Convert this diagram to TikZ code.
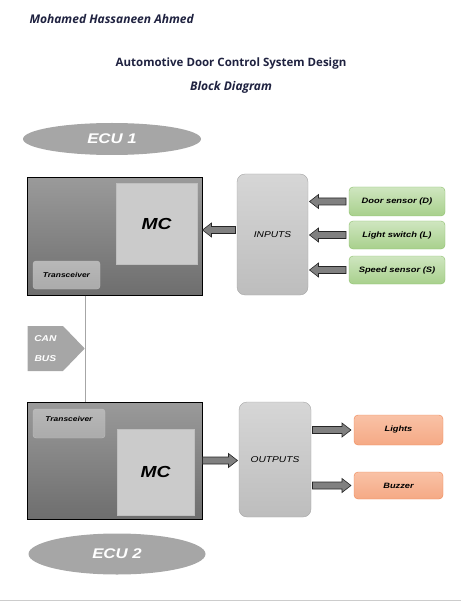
\documentclass[tikz,border=0pt]{standalone}
\usepackage{fontspec}
\setmainfont{Liberation Sans}[FakeStretch=1.2]
\newfontfamily\headfont{Open Sans}
\usepackage{xcolor}
\usepackage{tikz}
\usetikzlibrary{calc,shapes.geometric,shapes.symbols}
\definecolor{EcuGrayTop}{HTML}{9A9A9A}
\definecolor{EcuGrayBot}{HTML}{6E6E6E}
\definecolor{ChipGray}{HTML}{CBCBCB}
\definecolor{PortTop}{HTML}{D6D6D6}
\definecolor{PortBot}{HTML}{BDBDBD}
\definecolor{SensTop}{HTML}{CFE6C0}
\definecolor{SensBot}{HTML}{A8D08C}
\definecolor{SensLine}{HTML}{8CBF6C}
\definecolor{ActTop}{HTML}{F9C2A6}
\definecolor{ActBot}{HTML}{F5A985}
\definecolor{ActLine}{HTML}{EE8755}
\definecolor{LabelGray}{HTML}{A6A6A6}
\definecolor{TitleInk}{HTML}{1F2240}
% block arrow from #1 to #2 (shaft 7pt, head 14pt)
\newcommand{\blockarrow}[2]{%
    \coordinate (bas) at (#1);
    \coordinate (bat) at (#2);
    \coordinate (bah) at ($(bat)!9pt!(bas)$);
    \filldraw[blockarrow] ($(bas)!3.5pt!90:(bat)$) -- ($(bah)!3.5pt!-90:(bas)$)
        -- ($(bah)!7pt!-90:(bas)$) -- (bat) -- ($(bah)!7pt!90:(bas)$)
        -- ($(bah)!3.5pt!90:(bas)$) -- ($(bas)!3.5pt!-90:(bat)$) -- cycle;}

\begin{document}
\begin{tikzpicture}[
        x=1pt, y=-1pt,
        title/.style={font=\headfont\fontsize{11.5}{13}\selectfont\bfseries, text=TitleInk},
        ecubox/.style={
            draw=black,
            line width=1pt,
            top color=EcuGrayTop,
            bottom color=EcuGrayBot,
            inner sep=0pt
        },
        chip/.style={
            draw=black!25,
            fill=ChipGray,
            inner sep=0pt,
            font=\fontsize{16}{18}\selectfont\bfseries\itshape
        },
        trx/.style={
            draw=black!25,
            rounded corners=3pt,
            top color=black!28,
            bottom color=black!33,
            inner sep=0pt,
            font=\fontsize{7}{8}\selectfont\bfseries\itshape
        },
        ecutag/.style={
            ellipse,
            fill=LabelGray,
            inner sep=0pt,
            text=white,
            font=\fontsize{14}{16}\selectfont\bfseries\itshape
        },
        port/.style={
            draw=black!35,
            rounded corners=8pt,
            top color=PortTop,
            bottom color=PortBot,
            inner sep=0pt,
            outer sep=1.5pt,
            font=\fontsize{8.5}{10}\selectfont\itshape
        },
        sensor/.style={
            draw=SensLine,
            rounded corners=4pt,
            top color=SensTop,
            bottom color=SensBot,
            minimum width=96pt,
            inner sep=0pt,
            outer sep=3pt,
            font=\fontsize{7.8}{9}\selectfont\bfseries\itshape
        },
        actuator/.style={
            draw=ActLine,
            rounded corners=4pt,
            top color=ActTop,
            bottom color=ActBot,
            minimum width=89pt,
            inner sep=0pt,
            outer sep=3pt,
            font=\fontsize{7.7}{9}\selectfont\bfseries\itshape
        },
        blockarrow/.style={fill=black!50, draw=black!85, line width=0.6pt},
        busline/.style={draw=black!35, line width=0.7pt}
    ]
        \useasboundingbox (0,0) rectangle (461,601);

        \node[title, font=\headfont\fontsize{12}{14}\selectfont\bfseries\itshape, anchor=west]
            (author) at (26,19) {Mohamed Hassaneen Ahmed};
        \node[title] (heading) at (231,64) {Automotive Door Control System Design};
        \node[title, font=\headfont\fontsize{12}{14}\selectfont\bfseries\itshape]
            (subhead) at (231,87) {Block Diagram};

        % ECU 1
        \node[ecutag, minimum width=178pt, minimum height=32pt] (ecu1) at (112,139) {ECU 1};
        \node[ecubox, minimum width=175pt, minimum height=117pt] (ecu1box) at (114.5,236.5) {};
        \node[chip, minimum width=81pt, minimum height=81pt] (mc1) at (156.5,223.5) {MC};
        \node[trx, minimum width=67pt, minimum height=28pt] (trx1) at (66.5,275) {Transceiver};

        \node[port, minimum width=71pt, minimum height=121pt] (inputs) at (272.5,234.5) {INPUTS};
        \node[sensor, minimum height=29pt] (door) at (397,201.5) {Door sensor (D)};
        \node[sensor, minimum height=28pt] (light) at (397,235) {Light switch (L)};
        \node[sensor, minimum height=28pt] (speed) at (397,270) {Speed sensor (S)};

        % CAN bus
        \node[signal, signal to=east, signal pointer angle=92, fill=LabelGray,
            minimum width=57pt, minimum height=45pt, inner sep=0pt, align=center,
            text=white, font=\fontsize{8.5}{20}\selectfont\bfseries\itshape,
            anchor=east] (canbus) at (85,348.5) {CAN\\BUS};

        % ECU 2
        \node[ecubox, minimum width=175pt, minimum height=117pt] (ecu2box) at (114.5,460.5) {};
        \node[trx, minimum width=72pt, minimum height=29pt, text height=6pt, text depth=10pt]
            (trx2) at (69,423.5) {Transceiver};
        \node[chip, minimum width=77pt, minimum height=86pt] (mc2) at (155.5,472) {MC};
        \node[ecutag, minimum width=177pt, minimum height=41pt] (ecu2) at (117,554) {ECU 2};

        \node[port, minimum width=72pt, minimum height=115pt] (outputs) at (275,459.5) {OUTPUTS};
        \node[actuator, minimum height=30pt] (lights) at (398.5,430) {Lights};
        \node[actuator, minimum height=27pt] (buzzer) at (398.5,485.5) {Buzzer};

        \draw[busline] (ecu1box.south -| canbus.east) -- (ecu2box.north -| canbus.east);
        \draw[black!20, line width=0.8pt] (0,600) -- (461,600);

        \blockarrow{door.west}{door.west -| inputs.east}
        \blockarrow{light.west}{light.west -| inputs.east}
        \blockarrow{speed.west}{speed.west -| inputs.east}
        \blockarrow{[yshift=4.5pt]inputs.west}{bas -| ecu1box.east}
        \blockarrow{ecu2box.east}{ecu2box.east -| outputs.west}
        \blockarrow{outputs.east |- lights.west}{lights.west}
        \blockarrow{outputs.east |- buzzer.west}{buzzer.west}
    \end{tikzpicture}
\end{document}
